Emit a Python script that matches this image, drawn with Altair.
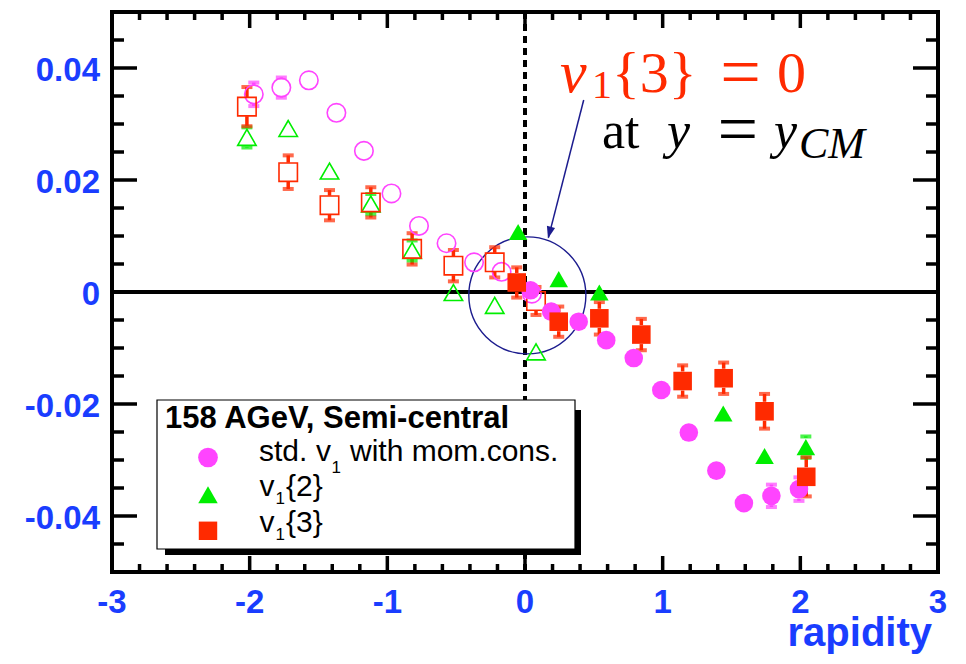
import altair as alt
import pandas as pd

# ---------------- data ----------------
SERIES = ["std. v1 with mom.cons.", "v1{2}", "v1{3}"]
COLORS = ["#ff44ff", "#00ee00", "#ff2a00"]
SHAPES = ["circle", "triangle-up", "square"]

STD_X_FILLED = [0.04, 0.19, 0.39, 0.59, 0.79, 0.99, 1.19, 1.39, 1.59, 1.79, 1.99]
STD_Y_FILLED = [0.0003, -0.0035, -0.0053, -0.0086, -0.0118, -0.0175, -0.0251, -0.0319, -0.0377, -0.0364, -0.0352]
STD_E_FILLED = [0, 0, 0, 0, 0, 0, 0, 0, 0, 0.0020, 0.0021]

STD_X_OPEN = [-1.97, -1.77, -1.57, -1.37, -1.17, -0.97, -0.77, -0.57, -0.37, -0.17, 0.05]
STD_Y_OPEN = [0.0353, 0.0365, 0.0378, 0.0320, 0.0252, 0.0176, 0.0118, 0.0087, 0.0053, 0.0036, -0.0003]
STD_E_OPEN = [0.0021, 0.0018, 0, 0, 0, 0, 0, 0, 0, 0, 0]

V2_X_FILLED = [-0.05, 0.245, 0.54, 1.44, 1.74, 2.04]
V2_Y_FILLED = [0.0107, 0.0023, -0.0001, -0.0217, -0.0293, -0.0277]
V2_E_FILLED = [0, 0, 0, 0, 0, 0.0019]

V2_X_OPEN = [-2.02, -1.72, -1.42, -1.12, -0.82, -0.52, -0.22, 0.08]
V2_Y_OPEN = [0.0276, 0.0292, 0.0216, 0.0157, 0.0074, -0.0001, -0.0024, -0.0107]
V2_E_OPEN = [0.0018, 0, 0, 0.0018, 0.0018, 0, 0, 0]

V3_X_FILLED = [-0.06, 0.245, 0.54, 0.845, 1.145, 1.443, 1.74, 2.043]
V3_Y_FILLED = [0.0017, -0.0053, -0.0047, -0.0076, -0.0159, -0.0154, -0.0213, -0.0330]
V3_E_FILLED = [0.0027, 0.0027, 0.0029, 0.0028, 0.0028, 0.0028, 0.0031, 0.0035]

V3_X_OPEN = [-2.02, -1.72, -1.42, -1.12, -0.82, -0.52, -0.22, 0.08]
V3_Y_OPEN = [0.0331, 0.0214, 0.0155, 0.0160, 0.0077, 0.0047, 0.0053, -0.0016]
V3_E_OPEN = [0.0035, 0.0030, 0.0027, 0.0027, 0.0028, 0.0028, 0.0027, 0.0025]

X_LABELS = [-3, -2, -1, 0, 1, 2, 3]
Y_LABELS = [-0.04, -0.02, 0, 0.02, 0.04]
X_MAJOR = [-2, -1, 0, 1, 2]
X_MINOR = [round(-3 + 0.2 * i, 1) for i in range(1, 30) if i % 5 != 0]
Y_MAJOR = [-0.04, -0.02, 0.0, 0.02, 0.04]
Y_MINOR = [round(-0.05 + 0.005 * i, 3) for i in range(1, 20) if i % 4 != 2]

LEGEND_TITLE = "158 AGeV, Semi-central"

# ---------------- tables ----------------
rows = []
def add(series, xs, ys, es, kind):
    for x, y, e in zip(xs, ys, es):
        rows.append({"series": series, "x": x, "y": y, "err": e, "kind": kind})

add(SERIES[0], STD_X_FILLED, STD_Y_FILLED, STD_E_FILLED, "filled")
add(SERIES[0], STD_X_OPEN, STD_Y_OPEN, STD_E_OPEN, "open")
add(SERIES[1], V2_X_FILLED, V2_Y_FILLED, V2_E_FILLED, "filled")
add(SERIES[1], V2_X_OPEN, V2_Y_OPEN, V2_E_OPEN, "open")
add(SERIES[2], V3_X_FILLED, V3_Y_FILLED, V3_E_FILLED, "filled")
add(SERIES[2], V3_X_OPEN, V3_Y_OPEN, V3_E_OPEN, "open")
df = pd.DataFrame(rows)

HS = 0.0017  # half marker height in data units: bars drawn outside the marker
segs, caps = [], []
for r in rows:
    if r["err"] > 0:
        caps.append({"series": r["series"], "x": r["x"], "y": r["y"] + r["err"]})
        caps.append({"series": r["series"], "x": r["x"], "y": r["y"] - r["err"]})
    if r["err"] > HS:
        segs.append({"series": r["series"], "x": r["x"], "y1": r["y"] + HS, "y2": r["y"] + r["err"]})
        segs.append({"series": r["series"], "x": r["x"], "y1": r["y"] - r["err"], "y2": r["y"] - HS})
seg_df = pd.DataFrame(segs)
cap_df = pd.DataFrame(caps)

# ---------------- layout ----------------
W, H = 826, 560
BLUE = "#1a3dff"
NAVY = "#1c1c8e"
RED = "#ff2a00"
SANS = "Liberation Sans"
SERIF = "Liberation Serif"

xscale = alt.Scale(domain=[-3, 3], nice=False, zero=False)
yscale = alt.Scale(domain=[-0.05, 0.05], nice=False, zero=False)
cscale = alt.Scale(domain=SERIES, range=COLORS)
sscale = alt.Scale(domain=SERIES, range=SHAPES)

def XQ(f):
    return alt.X(f, scale=xscale, axis=None)

def YQ(f):
    return alt.Y(f, scale=yscale, axis=None)

one = pd.DataFrame({"a": [0]})

# frame ticks (pointing inward)
def xticks(vals, length, top):
    d = pd.DataFrame({"v": vals})
    y0 = 0 if top else H
    y1 = length if top else H - length
    return alt.Chart(d).mark_rule(color="black", strokeWidth=3.5).encode(
        x=XQ("v:Q"), y=alt.value(y0), y2=alt.value(y1))

def yticks(vals, length, right):
    d = pd.DataFrame({"v": vals})
    x0 = W if right else 0
    x1 = W - length if right else length
    return alt.Chart(d).mark_rule(color="black", strokeWidth=3.5).encode(
        y=YQ("v:Q"), x=alt.value(x0), x2=alt.value(x1))

tick_layers = [
    xticks(X_MAJOR, 16, False), xticks(X_MINOR, 8, False),
    xticks(X_MAJOR, 16, True), xticks(X_MINOR, 8, True),
    yticks(Y_MAJOR, 25, False), yticks(Y_MINOR, 12, False),
    yticks(Y_MAJOR, 25, True), yticks(Y_MINOR, 12, True),
]

# tick labels and axis title
xlab = alt.Chart(pd.DataFrame({"v": X_LABELS, "t": [str(v) for v in X_LABELS]})).mark_text(
    font=SANS, fontWeight="bold", fontSize=33, color=BLUE, align="center",
    baseline="alphabetic").encode(x=XQ("v:Q"), y=alt.value(601), text="t:N")
ylab = alt.Chart(pd.DataFrame({"v": Y_LABELS, "t": [str(v) for v in Y_LABELS]})).mark_text(
    font=SANS, fontWeight="bold", fontSize=33, color=BLUE, align="right",
    baseline="alphabetic", dy=12.5).encode(y=YQ("v:Q"), x=alt.value(-12), text="t:N")
xtitle = alt.Chart(one).mark_text(text="rapidity", font=SANS, fontWeight="bold", fontSize=40,
                                  color=BLUE, align="right", baseline="alphabetic").encode(
    x=alt.value(820), y=alt.value(634))

zero_line = alt.Chart(pd.DataFrame({"y": [0.0]})).mark_rule(color="black", strokeWidth=4).encode(
    y=YQ("y:Q"))
dot_line = alt.Chart(pd.DataFrame({"x": [0.0]})).mark_rule(
    color="black", strokeWidth=4, strokeDash=[7, 5]).encode(x=XQ("x:Q"))

err_rules = alt.Chart(seg_df).mark_rule(strokeWidth=3.5).encode(
    x=XQ("x:Q"), y=YQ("y1:Q"), y2="y2:Q",
    color=alt.Color("series:N", scale=cscale, legend=None))
err_caps = alt.Chart(cap_df).mark_tick(orient="horizontal", size=11, thickness=4).encode(
    x=XQ("x:Q"), y=YQ("y:Q"),
    color=alt.Color("series:N", scale=cscale, legend=None))

open_pts = alt.Chart(df).transform_filter(alt.datum.kind == "open").mark_point(
    filled=False, opacity=1, strokeWidth=1.6, size=340).encode(
    x=XQ("x:Q"), y=YQ("y:Q"),
    color=alt.Color("series:N", scale=cscale, legend=None),
    shape=alt.Shape("series:N", scale=sscale, legend=None))
filled_pts = alt.Chart(df).transform_filter(alt.datum.kind == "filled").mark_point(
    filled=True, opacity=1, strokeWidth=0, size=345).encode(
    x=XQ("x:Q"), y=YQ("y:Q"),
    color=alt.Color("series:N", scale=cscale, legend=None),
    shape=alt.Shape("series:N", scale=sscale, legend=None))

# annotation: circle around y = 0 and the arrow (in data coordinates)
ring = alt.Chart(pd.DataFrame({"x": [0.017], "y": [-0.0006]})).mark_point(
    shape="circle", size=13700, filled=False, opacity=1, color=NAVY, strokeWidth=1.4).encode(
    x=XQ("x:Q"), y=YQ("y:Q"))
arrow_line = alt.Chart(pd.DataFrame({"x": [0.4264], "y": [0.03429], "x2": [0.170], "y2": [0.0097]})
                       ).mark_rule(color=NAVY, strokeWidth=1.5).encode(
    x=XQ("x:Q"), y=YQ("y:Q"), x2="x2:Q", y2="y2:Q")
arrow_head = alt.Chart(pd.DataFrame({"x": [0.167], "y": [0.00955]})).mark_point(
    shape="M0,0L-0.35,-1L0.35,-1Z", size=576, filled=True, opacity=1, color=NAVY,
    strokeWidth=0, angle=14.45).encode(x=XQ("x:Q"), y=YQ("y:Q"))

def dtxt(s, x, y, size, color, font=SERIF, style="normal"):
    return alt.Chart(pd.DataFrame({"x": [x], "y": [y]})).mark_text(
        text=s, align="left", baseline="alphabetic", font=font, fontSize=size,
        fontStyle=style, color=color).encode(x=XQ("x:Q"), y=YQ("y:Q"))

texts = [
    dtxt("v", 0.255, 0.0357, 60, RED, style="italic"),
    dtxt("1", 0.487, 0.03464, 40, RED),
    dtxt("{3}", 0.632, 0.0357, 58, RED),
    dtxt("=", 1.418, 0.03500, 72, RED),
    dtxt("0", 1.830, 0.0357, 58, RED),
    dtxt("at", 0.559, 0.02571, 52, "black"),
    dtxt("y", 1.031, 0.02571, 52, "black", style="italic"),
    dtxt("=", 1.398, 0.02490, 72, "black"),
    dtxt("y", 1.809, 0.02571, 52, "black", style="italic"),
    dtxt("CM", 1.990, 0.02393, 44, "black", style="italic"),
]

# legend box (drawn with marks, pixel offsets inside the plot area)
def ptxt(s, x, y, size, weight="normal"):
    return alt.Chart(one).mark_text(text=s, align="left", baseline="alphabetic", font=SANS,
                                    fontSize=size, fontWeight=weight, color="black").encode(
        x=alt.value(x), y=alt.value(y))

shadow = alt.Chart(one).mark_rect(color="black").encode(
    x=alt.value(53), x2=alt.value(469), y=alt.value(398), y2=alt.value(543))
box = alt.Chart(one).mark_rect(fill="white", stroke="black", strokeWidth=1.2).encode(
    x=alt.value(45), x2=alt.value(463), y=alt.value(388), y2=alt.value(537))
ROW_Y = [445.5, 482.7, 518.8]
ROW_BASE = [449, 483.5, 519.5]
SYM_SIZE = [390, 380, 340]
legend_layers = [shadow, box, ptxt(LEGEND_TITLE, 53, 416, 31, "bold")]
for i in range(3):
    legend_layers.append(alt.Chart(one).mark_point(
        filled=True, opacity=1, strokeWidth=0, shape=SHAPES[i], color=COLORS[i],
        size=SYM_SIZE[i]).encode(x=alt.value(96), y=alt.value(ROW_Y[i])))
legend_layers += [
    ptxt("std.", 147, ROW_BASE[0], 30), ptxt("v", 204, ROW_BASE[0], 30),
    ptxt("1", 219.5, ROW_BASE[0] + 12, 17), ptxt("with mom.cons.", 238, ROW_BASE[0], 30),
    ptxt("v", 147.5, ROW_BASE[1], 30), ptxt("1", 163.5, ROW_BASE[1] + 8.5, 17),
    ptxt("{2}", 174, ROW_BASE[1], 30),
    ptxt("v", 147.5, ROW_BASE[2], 30), ptxt("1", 163.5, ROW_BASE[2] + 8.5, 17),
    ptxt("{3}", 174, ROW_BASE[2], 30),
]

chart = alt.layer(
    zero_line, dot_line, *tick_layers, ring, arrow_line, arrow_head,
    err_rules, err_caps, open_pts, filled_pts, *texts, xlab, ylab, xtitle, *legend_layers
).properties(
    width=W, height=H,
    padding={"left": 104, "top": 4, "right": 20, "bottom": 84},
    autosize=alt.AutoSizeParams(type="none"),
    background="white",
).configure_view(stroke="black", strokeWidth=4)

chart.save("out.html", embed_options={"renderer": "svg", "actions": False})
